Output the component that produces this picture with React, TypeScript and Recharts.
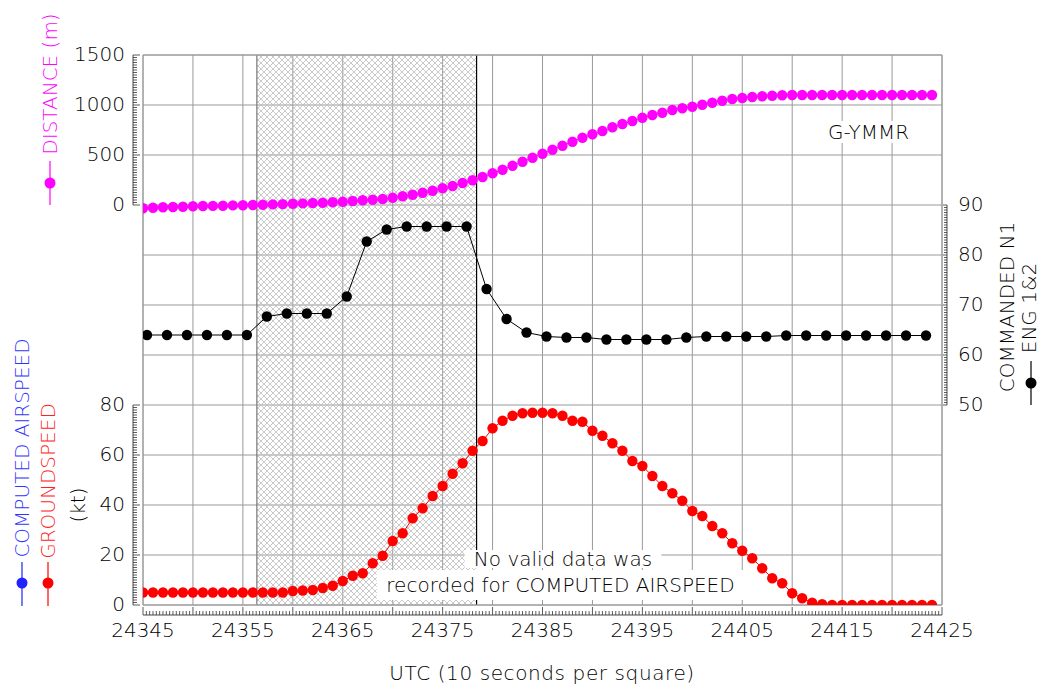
import React from "react";
import { ComposedChart, Line, XAxis, YAxis, ReferenceLine, ReferenceArea, CartesianGrid } from "recharts";

const FONT = '"DejaVu Sans", sans-serif';
const INK = "#000";
const GRID = "#999";

// 1 s samples (distance, groundspeed) and 2 s samples (commanded N1)
const sampleTimes = Array.from({ length: 80 }, (_, i) => 24345 + i);
const n1Times = Array.from({ length: 40 }, (_, i) => 24345.4 + i * 2);

const distance = [
  -33, -27, -23, -20, -17, -13, -10, -9, -7, -4,
  -2, 0, 3, 6, 9, 12, 16, 20, 23, 27,
  33, 40, 47, 53, 60, 73, 87, 103, 123, 143,
  167, 190, 220, 247, 280, 317, 353, 393, 433, 473,
  513, 553, 593, 633, 673, 707, 740, 777, 810, 840,
  873, 900, 923, 950, 967, 983, 1003, 1023, 1043, 1060,
  1070, 1080, 1087, 1093, 1097, 1100, 1100, 1100, 1100, 1100,
  1100, 1100, 1100, 1100, 1100, 1100, 1100, 1100, 1100, 1100,
];

const groundspeed = [
  5, 5, 5, 5, 5, 5, 5, 5, 5, 5,
  5, 5, 5, 5, 5, 5.6, 5.8, 6, 6.8, 7.7,
  9.6, 11.7, 12.7, 16.7, 19.7, 25.6, 28.7, 34.7, 38.7, 43.6,
  47.6, 52.5, 56.7, 61.7, 65.6, 70.7, 73.7, 75.7, 76.7, 76.9,
  76.9, 76.7, 75.7, 73.7, 73.3, 69.7, 67.7, 64.7, 61.7, 57.6,
  55.6, 51.6, 47.6, 44.7, 41.7, 37.6, 35.6, 31.6, 28.7, 24.7,
  21.7, 18.7, 14.7, 10.7, 8.7, 4.7, 2.7, 0.9, 0.3, 0,
  0, 0, 0, 0, 0, 0, 0, 0, 0, 0,
];

const commandedN1 = [
  64, 64, 64, 64, 64, 64, 67.7, 68.3, 68.3, 68.3,
  71.7, 82.7, 85.1, 85.7, 85.7, 85.7, 85.7, 73.2, 67.2, 64.5,
  63.7, 63.5, 63.5, 63.1, 63.1, 63.1, 63.1, 63.5, 63.7, 63.7,
  63.7, 63.7, 63.9, 63.9, 63.9, 63.9, 63.9, 63.9, 63.9, 63.9,
];

const distRows = sampleTimes.map((t, i) => ({ t, v: distance[i] }));
const speedRows = sampleTimes.map((t, i) => ({ t, v: groundspeed[i] }));
const n1Rows = n1Times.map((t, i) => ({ t, v: commandedN1[i] }));

const range = (a: number, b: number, step: number) =>
  Array.from({ length: Math.round((b - a) / step) + 1 }, (_, i) => a + i * step);

const xTicks = Array.from({ length: 241 }, (_, i) => 24345 + i / 3);
const distTicks = range(0, 1500, 25);
const speedTicks = range(0, 80, 1);
const n1Ticks = range(50, 90, 0.5);
const vGrid = range(24350, 24420, 5);
const hGrid = range(-3500, 1000, 500);

const near = (v: number) => Math.abs(v - Math.round(v)) < 1e-6;
const applyScale = (axis: any, v: number) => {
  const s = axis?.scale;
  if (typeof s === "function") return s(v);
  if (s && typeof s.map === "function") return s.map(v);
  return 0;
};

const textStyle = { fontFamily: FONT, fontSize: 20, fill: INK, fontWeight: 300 } as const;

const leftTick = (major: number, shift: number) => (p: any) => {
  const v = Number(p.payload.value);
  const isMajor = near(v / major);
  const ax = p.x + shift - 10;
  return (
    <g>
      <line x1={ax} x2={ax + (isMajor ? 7 : 4)} y1={p.y} y2={p.y} stroke="#333" strokeWidth={0.8} />
      {isMajor && (
        <text x={ax - 8} y={p.y} dy={-1} textAnchor="end" dominantBaseline="central" {...textStyle}>
          {v}
        </text>
      )}
    </g>
  );
};

const rightTick = (p: any) => {
  const v = Number(p.payload.value);
  const isMajor = near(v / 10);
  const ax = p.x + 5;
  return (
    <g>
      <line x1={ax} x2={ax - (isMajor ? 4 : 3)} y1={p.y} y2={p.y} stroke="#333" strokeWidth={0.8} />
      {isMajor && (
        <text x={ax + 11} y={p.y} dy={-1} textAnchor="start" dominantBaseline="central" {...textStyle}>
          {v}
        </text>
      )}
    </g>
  );
};

const bottomTick = (p: any) => {
  const v = Number(p.payload.value);
  const s = v - 24345;
  const base = p.y + 10;
  return (
    <g>
      <line x1={p.x} x2={p.x} y1={base} y2={base - (near(s / 5) ? 8 : 4)} stroke="#333" strokeWidth={0.8} />
      {near(s / 10) && (
        <text x={p.x} y={base + 15} textAnchor="middle" dominantBaseline="central" {...textStyle}>
          {Math.round(v)}
        </text>
      )}
    </g>
  );
};

const boxLabel = (value: string) => ({
  value,
  position: "center" as const,
  fill: INK,
  fontSize: 20,
  fontFamily: FONT,
  fontWeight: 300,
});

const Rotated = ({ x, y, color, children }: { x: number; y: number; color: string; children: React.ReactNode }) => (
  <text
    transform={`translate(${x},${y}) rotate(-90)`}
    textAnchor="middle"
    dominantBaseline="central"
    fontFamily={FONT}
    fontSize={20}
    fontWeight={300}
    fill={color}
  >
    {children}
  </text>
);

const Marker = ({ x, y1, y2, dotY, color }: { x: number; y1: number; y2: number; dotY: number; color: string }) => (
  <g>
    <line x1={x} x2={x} y1={y1} y2={y2} stroke={color} strokeWidth={1.2} />
    <circle cx={x} cy={dotY} r={5.5} fill={color} />
  </g>
);

// no-data window (s)
const gapStart = 24356.4;
const gapEnd = 24378.4;

export default function App() {
  return (
    <div style={{ position: "absolute", left: 0, top: 0, width: 1041, height: 687, background: "#fff" }}>
      <svg width={0} height={0} style={{ position: "absolute" }}>
        <defs>
          <pattern id="xhatch" width="6" height="6" patternUnits="userSpaceOnUse">
            <path d="M0,0 L6,6 M6,0 L0,6" stroke="#bdbdbd" strokeWidth={0.8} />
          </pattern>
        </defs>
      </svg>
      <ComposedChart width={1041} height={687} margin={{ top: 55, right: 98, bottom: 81, left: 141 }}>
        <CartesianGrid
          yAxisId="dist"
          stroke={GRID}
          strokeWidth={1}
          verticalCoordinatesGenerator={({ xAxis }: any) => vGrid.map((v) => applyScale(xAxis, v))}
          horizontalCoordinatesGenerator={({ yAxis }: any) => hGrid.map((v) => applyScale(yAxis, v))}
        />
        <XAxis
          dataKey="t"
          type="number"
          domain={[24345, 24425]}
          allowDataOverflow
          ticks={xTicks}
          interval={0}
          height={1}
          tickSize={0}
          tickMargin={0}
          axisLine={false}
          tickLine={false}
          tick={bottomTick}
        />
        <YAxis
          yAxisId="dist"
          type="number"
          domain={[-4000, 1500]}
          allowDataOverflow
          ticks={distTicks}
          interval={0}
          width={1}
          tickSize={0}
          tickMargin={0}
          axisLine={false}
          tickLine={false}
          tick={leftTick(500, 0)}
        />
        <YAxis
          yAxisId="spd"
          type="number"
          domain={[0, 220]}
          allowDataOverflow
          ticks={speedTicks}
          interval={0}
          width={1}
          tickSize={0}
          tickMargin={0}
          axisLine={false}
          tickLine={false}
          tick={leftTick(20, 1)}
        />
        <YAxis
          yAxisId="n1"
          orientation="right"
          type="number"
          domain={[10, 120]}
          allowDataOverflow
          ticks={n1Ticks}
          interval={0}
          width={1}
          tickSize={0}
          tickMargin={0}
          axisLine={false}
          tickLine={false}
          tick={rightTick}
        />

        {/* no-data window with its edges (right edge stops behind the note) */}
        <ReferenceArea yAxisId="dist" x1={gapStart} x2={gapEnd} y1={-4000} y2={1500} fill="url(#xhatch)" fillOpacity={1} stroke="none" />
        <ReferenceArea yAxisId="dist" x1={gapStart - 0.06} x2={gapStart + 0.06} y1={-4000} y2={1500} fill="#777" fillOpacity={1} stroke="none" />
        <ReferenceArea yAxisId="spd" x1={gapEnd - 0.06} x2={gapEnd + 0.06} y1={22} y2={220} fill="#000" fillOpacity={1} stroke="none" />
        <ReferenceArea yAxisId="spd" x1={gapEnd - 0.06} x2={gapEnd + 0.06} y1={0} y2={2} fill="#000" fillOpacity={1} stroke="none" />

        {/* annotations */}
        <ReferenceArea yAxisId="dist" x1={24412.9} x2={24422.4} y1={620} y2={840} fill="#fff" fillOpacity={1} stroke="none" label={boxLabel("G-YMMR")} />
        <ReferenceArea yAxisId="spd" x1={24377.2} x2={24396.9} y1={14.8} y2={22} fill="#fff" fillOpacity={1} stroke="none" label={boxLabel("No valid data was")} />
        <ReferenceArea yAxisId="spd" x1={24368.4} x2={24405.2} y1={2} y2={14} fill="#fff" fillOpacity={1} stroke="none" label={boxLabel("recorded for COMPUTED AIRSPEED")} />

        {/* frame */}
        <ReferenceLine yAxisId="dist" x={24345} stroke={GRID} strokeWidth={1.5} />
        <ReferenceLine yAxisId="dist" x={24425} stroke={GRID} strokeWidth={1.5} />
        <ReferenceLine yAxisId="dist" y={1500} stroke={GRID} strokeWidth={1.5} />
        <ReferenceLine yAxisId="dist" y={-4000} stroke={GRID} strokeWidth={1.5} />

        {/* axis spines */}
        <ReferenceLine yAxisId="dist" ifOverflow="visible" segment={[{ x: 24344, y: 0 }, { x: 24344, y: 1500 }]} stroke="#333" strokeWidth={0.9} />
        <ReferenceLine yAxisId="spd" ifOverflow="visible" segment={[{ x: 24344, y: 0 }, { x: 24344, y: 80 }]} stroke="#333" strokeWidth={0.9} />
        <ReferenceLine yAxisId="n1" ifOverflow="visible" segment={[{ x: 24425.5, y: 50 }, { x: 24425.5, y: 90 }]} stroke="#333" strokeWidth={0.9} />
        <ReferenceLine yAxisId="spd" ifOverflow="visible" segment={[{ x: 24345, y: -4 }, { x: 24425, y: -4 }]} stroke="#333" strokeWidth={0.9} />

        <Line yAxisId="dist" data={distRows} dataKey="v" type="linear" stroke="#ff00ff" strokeWidth={1} dot={{ r: 5.2, fill: "#ff00ff", stroke: "none" }} activeDot={false} isAnimationActive={false} />
        <Line yAxisId="n1" data={n1Rows} dataKey="v" type="linear" stroke="#000" strokeWidth={1} dot={{ r: 5.2, fill: "#000", stroke: "none" }} activeDot={false} isAnimationActive={false} />
        <Line yAxisId="spd" data={speedRows} dataKey="v" type="linear" stroke="#ff0000" strokeWidth={1} dot={{ r: 5.2, fill: "#ff0000", stroke: "none" }} activeDot={false} isAnimationActive={false} />
      </ComposedChart>

      <svg width={1041} height={687} style={{ position: "absolute", left: 0, top: 0, pointerEvents: "none" }}>
        <Rotated x={50} y={84} color="#ff00ff">DISTANCE (m)</Rotated>
        <Marker x={50} y1={161} y2={205} dotY={183} color="#ff00ff" />

        <Rotated x={22} y={448} color="#3333ff">COMPUTED AIRSPEED</Rotated>
        <Rotated x={48} y={481} color="#ff2222">GROUNDSPEED</Rotated>
        <Rotated x={78} y={505} color={INK}>(kt)</Rotated>
        <Marker x={22} y1={562} y2={606} dotY={583} color="#2222ff" />
        <Marker x={48} y1={562} y2={606} dotY={583} color="#ff0000" />

        <Rotated x={1007} y={307} color={INK}>COMMANDED N1</Rotated>
        <Rotated x={1029} y={308} color={INK}>ENG 1&amp;2</Rotated>
        <Marker x={1031} y1={361} y2={405} dotY={383} color="#000" />

        <text x={542} y={673} textAnchor="middle" dominantBaseline="central" fontFamily={FONT} fontSize={20} fontWeight={300} fill={INK} letterSpacing={0.6}>
          UTC (10 seconds per square)
        </text>
      </svg>
    </div>
  );
}
